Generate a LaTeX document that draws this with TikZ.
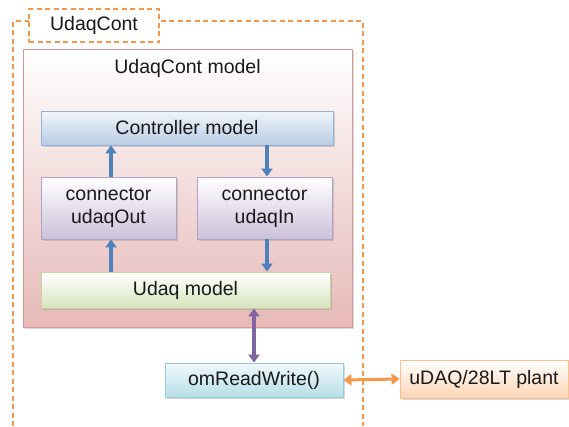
\documentclass[tikz,border=0pt]{standalone}
\usepackage{fontspec}
\setmainfont{Liberation Sans}
\usetikzlibrary{arrows.meta, shadows}

\definecolor{LineOrange}{HTML}{F79646}
\definecolor{ArrowBlue}{HTML}{4F81BD}
\definecolor{ArrowPurple}{HTML}{8064A2}
\definecolor{ModelPink}{HTML}{E6B9B8}
\definecolor{ModelPinkLine}{HTML}{D99795}
\definecolor{CtrlBlue}{HTML}{B9CDE5}
\definecolor{CtrlBlueLine}{HTML}{95B3D7}
\definecolor{ConnPurple}{HTML}{CCC1DA}
\definecolor{ConnPurpleLine}{HTML}{B3A2C7}
\definecolor{UdaqGreen}{HTML}{D7E4BD}
\definecolor{UdaqGreenLine}{HTML}{C3D69B}
\definecolor{RwCyan}{HTML}{B7DEE8}
\definecolor{RwCyanLine}{HTML}{93CDDD}
\definecolor{PlantOrange}{HTML}{FCD5B5}
\definecolor{PlantOrangeLine}{HTML}{FAC090}

\begin{document}
\begin{tikzpicture}[x=1pt, y=-1pt,
        txt/.style={font=\fontsize{19.5}{23}\selectfont, text=black!90},
        blockbox/.style={txt, inner sep=0pt, align=center, line width=0.9pt,
            drop shadow={shadow xshift=1.5pt, shadow yshift=-1.5pt, opacity=0.3}},
        link/.style={line width=3.6pt, {Triangle[length=8pt, width=11pt]}-{Triangle[length=8pt, width=11pt]}},
        uplink/.style={line width=3.8pt, ArrowBlue, -{Triangle[length=8pt, width=11pt]}}]
        \useasboundingbox (0, 0) rectangle (569, 426);

        \draw[LineOrange, line width=1.1pt, dash pattern=on 5pt off 3.5pt] (13, 426) -- (13, 21) -- (363, 21) -- (363, 426);

        \node (contlabel) at (94, 25.5)[txt, draw=LineOrange, line width=1.1pt, dash pattern=on 5pt off 3.5pt, fill=white, minimum width=130, minimum height=33, inner sep=0pt] {UdaqCont};

        \node (contmodel) at (187.5, 188)[blockbox, draw=ModelPinkLine, top color=white, bottom color=ModelPink, minimum width=329, minimum height=278] {};

        \node (modellabel) at (187.5, 68)[txt] {UdaqCont model};

        \node (ctrl) at (187, 128)[blockbox, draw=CtrlBlueLine, top color=CtrlBlue!20, bottom color=CtrlBlue, minimum width=292, minimum height=34] {Controller model};

        \node (udaqout) at (108.5, 208)[blockbox, draw=ConnPurpleLine, top color=white, bottom color=ConnPurple, minimum width=135, minimum height=62] {connector\\udaqOut};

        \node (udaqin) at (264.5, 208)[blockbox, draw=ConnPurpleLine, top color=white, bottom color=ConnPurple, minimum width=135, minimum height=62] {connector\\udaqIn};

        \node (udaq) at (185.5, 290)[blockbox, draw=UdaqGreenLine, top color=white, bottom color=UdaqGreen, minimum width=289, minimum height=36] {Udaq model};

        \node (readwrite) at (254, 380)[blockbox, draw=RwCyanLine, top color=RwCyan!20, bottom color=RwCyan, minimum width=178, minimum height=34] {omReadWrite()};

        \node (plant) at (484, 379)[blockbox, draw=PlantOrangeLine, top color=white, bottom color=PlantOrange, minimum width=168, minimum height=38] {uDAQ/28LT plant};

        \draw[uplink] ([xshift=2.5pt]udaqout.north) -- ([xshift=2.5pt]udaqout.north |- ctrl.south);

        \draw[uplink] ([xshift=2.5pt]udaqin.north |- ctrl.south) -- ([xshift=2.5pt]udaqin.north);

        \draw[uplink] ([xshift=2.5pt]udaqout.north |- udaq.north) -- ([xshift=2.5pt]udaqout.south);

        \draw[uplink] ([xshift=2.5pt]udaqin.south) -- ([xshift=2.5pt]udaqin.south |- udaq.north);

        \draw[link, ArrowPurple] (readwrite.north) -- (readwrite.north |- udaq.south);

        \draw[link, LineOrange, line width=3pt] (readwrite.east) -- (plant.west);
    \end{tikzpicture}
\end{document}
